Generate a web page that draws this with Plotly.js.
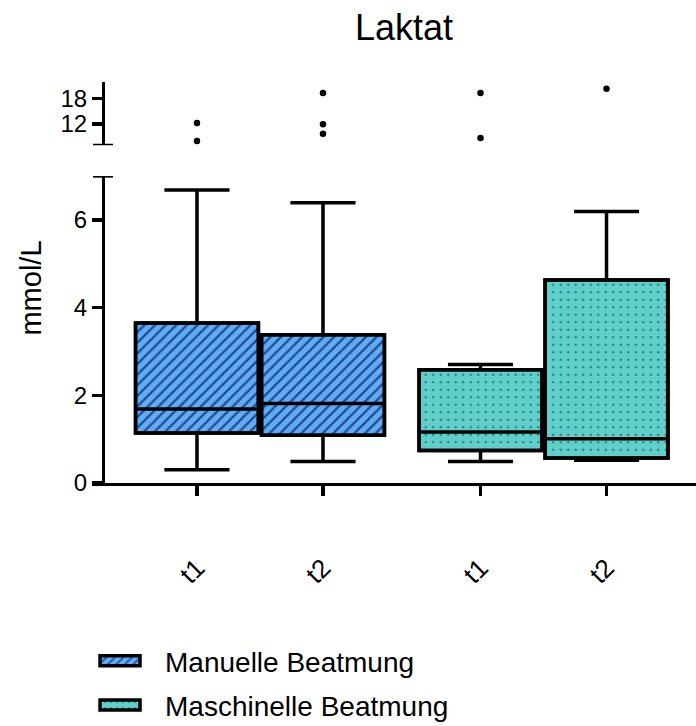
<!DOCTYPE html>
<html>
<head>
<meta charset="utf-8">
<script src="https://cdn.plot.ly/plotly-3.0.1.min.js"></script>
<style>html,body{margin:0;padding:0;background:#fff}</style>
</head>
<body>
<div id="chart" style="width:696px;height:726px"></div>
<script>
// Lactate (mmol/L) at two timepoints, manual vs. machine ventilation
const groups = ['Manuelle Beatmung', 'Maschinelle Beatmung'];
const timepoints = ['t1', 't2'];

const manLower = [0.30, 0.49];
const manQ1 = [1.14, 1.09];
const manMedian = [1.69, 1.81];
const manQ3 = [3.65, 3.38];
const manUpper = [6.68, 6.39];
const manOutliers = [[12.2, 8.0], [19.2, 11.9, 9.7]];

const masLower = [0.49, 0.52];
const masQ1 = [0.74, 0.57];
const masMedian = [1.16, 1.01];
const masQ3 = [2.58, 4.63];
const masUpper = [2.70, 6.19];
const masOutliers = [[19.2, 8.7], [20.2]];

const yTicksLow = [0, 2, 4, 6];
const yTicksHigh = [12, 18];

// ---- layout helpers ----
const GROUP_GAP = 0.25;
const BOX_W = 0.975;
const FONT = 'Liberation Sans, Arial, Helvetica, sans-serif';
const pos = (g, t) => t + g * (timepoints.length + GROUP_GAP);

const series = [
  {name: groups[0], lower: manLower, q1: manQ1, med: manMedian, q3: manQ3, upper: manUpper, out: manOutliers,
   bg: '#62acf4', fg: '#1d4c98', shape: '/', size: 7.5, solidity: 0.3},
  {name: groups[1], lower: masLower, q1: masQ1, med: masMedian, q3: masQ3, upper: masUpper, out: masOutliers,
   bg: '#60cfca', fg: '#24807f', shape: '.', size: 7.5, solidity: 0.09}
];

const traces = [];
const tickVals = [], tickText = [];
const outX = [], outY = [];

series.forEach((s, g) => {
  const xs = timepoints.map((_, t) => pos(g, t));
  xs.forEach((x, t) => {
    tickVals.push(x); tickText.push(timepoints[t]);
    s.out[t].forEach(v => { outX.push(x); outY.push(v); });
  });
  // patterned body of the box (Q1..Q3)
  traces.push({
    type: 'bar', name: s.name, legendgroup: s.name,
    x: xs, base: s.q1, y: s.q3.map((v, i) => v - s.q1[i]),
    width: BOX_W, xaxis: 'x', yaxis: 'y',
    marker: {
      color: s.bg,
      line: {color: '#000', width: 3.5},
      pattern: {shape: s.shape, bgcolor: s.bg, fgcolor: s.fg, fgopacity: 1, size: s.size, solidity: s.solidity}
    },
    hoverinfo: 'skip'
  });
  // outline, median and whiskers
  traces.push({
    type: 'box', name: s.name, legendgroup: s.name, showlegend: false,
    x: xs, q1: s.q1, median: s.med, q3: s.q3, lowerfence: s.lower, upperfence: s.upper,
    width: BOX_W, whiskerwidth: 0.53, boxpoints: false,
    fillcolor: 'rgba(0,0,0,0)', line: {color: '#000', width: 3.5},
    xaxis: 'x', yaxis: 'y', hoverinfo: 'skip'
  });
});

// outliers on the upper segment of the broken axis
traces.push({
  type: 'scatter', mode: 'markers', x: outX, y: outY,
  xaxis: 'x', yaxis: 'y2', showlegend: false,
  marker: {color: '#000', size: 6.5}, hoverinfo: 'skip', cliponaxis: false
});

const axisX = 0.0182;          // y-axis position inside the x domain
const capHalf = 10 / 604;      // half-width of the break caps
const axisLine = {showline: true, linecolor: '#000', linewidth: 3.3, ticks: 'outside',
                  ticklen: 10, tickwidth: 3.3, tickcolor: '#000', showgrid: false, zeroline: false,
                  automargin: false, tickfont: {family: FONT, size: 24, color: '#000'}};

const layout = {
  width: 696, height: 726,
  margin: {l: 92, r: 0, t: 82, b: 243, autoexpand: false},
  paper_bgcolor: '#fff', plot_bgcolor: '#fff',
  font: {family: FONT, color: '#000'},
  barmode: 'overlay', boxmode: 'overlay',
  title: {text: 'Laktat', font: {family: FONT, size: 36, color: '#000'},
          x: 0.5805, xref: 'container', xanchor: 'center', y: 0.98, yref: 'container', yanchor: 'top'},
  xaxis: Object.assign({}, axisLine, {
    range: [-0.833, 3.96], anchor: 'y', tickvals: tickVals, ticktext: tickText,
    tickangle: -45, ticklabelstandoff: 46, tickfont: {family: FONT, size: 26, color: '#000'}
  }),
  yaxis: Object.assign({}, axisLine, {
    domain: [0, 0.7656], range: [0, 7], anchor: 'free', position: axisX,
    tickvals: yTicksLow
  }),
  yaxis2: Object.assign({}, axisLine, {
    domain: [0.8421, 1], range: [7, 21.8], anchor: 'free', position: axisX,
    tickvals: yTicksHigh
  }),
  shapes: [
    {type: 'line', xref: 'paper', yref: 'y', x0: axisX - capHalf, x1: axisX + capHalf, y0: 7, y1: 7,
     line: {color: '#000', width: 3.3}},
    {type: 'line', xref: 'paper', yref: 'y2', x0: axisX - capHalf, x1: axisX + capHalf, y0: 7, y1: 7,
     line: {color: '#000', width: 3.3}}
  ],
  annotations: [
    {text: 'mmol/L', xref: 'paper', yref: 'paper', x: -0.1026, y: 0.485, textangle: -90,
     xanchor: 'center', yanchor: 'middle', showarrow: false, font: {family: FONT, size: 29, color: '#000'}}
  ],
  showlegend: true,
  legend: {xref: 'container', yref: 'container', x: 0.1078, xanchor: 'left', y: 0.124, yanchor: 'top',
           orientation: 'v', itemwidth: 80, tracegroupgap: 5, bgcolor: 'rgba(0,0,0,0)',
           font: {family: FONT, size: 28, color: '#000'}}
};

const gd = document.getElementById('chart');
// wide, flat legend swatches
function wideSwatches() {
  gd.querySelectorAll('.legend .legendpoints path').forEach(p => p.setAttribute('d', 'M20,5H-20V-5H20Z'));
}
Plotly.newPlot(gd, traces, layout, {displayModeBar: false, staticPlot: true}).then(() => {
  wideSwatches();
  gd.on('plotly_afterplot', wideSwatches);
});
</script>
</body>
</html>
